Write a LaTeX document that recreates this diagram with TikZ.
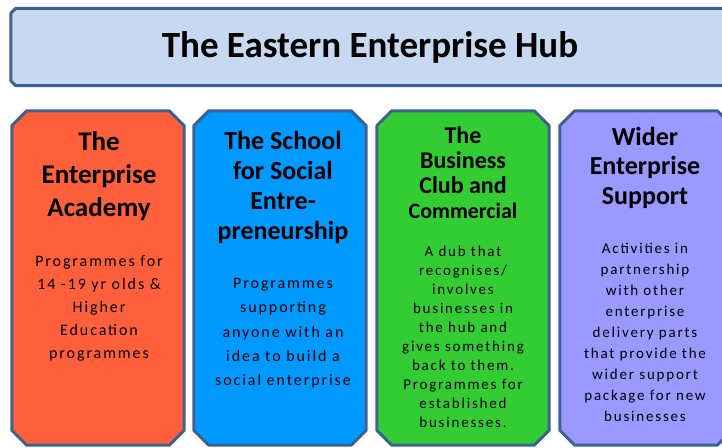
\documentclass[tikz,border=0pt]{standalone}
\usepackage{fontspec}
\setmainfont{Carlito}
\newfontfamily\bodyfont[LetterSpace=12]{Carlito}
\definecolor{bordc}{HTML}{3F6190}
\definecolor{hubc}{HTML}{C6D9F1}
\definecolor{orc}{HTML}{FF5F3A}
\definecolor{blc}{HTML}{0099FF}
\definecolor{grc}{HTML}{33CC33}
\definecolor{puc}{HTML}{9999FF}
\newcommand\chamfbox[3]{%
  \draw[draw=bordc, line width=3pt, line join=round, fill=#3]
    ([xshift=#2pt]#1.north west) -- ([xshift=-#2pt]#1.north east)
    -- ([yshift=-#2pt]#1.north east) -- ([yshift=#2pt]#1.south east)
    -- ([xshift=-#2pt]#1.south east) -- ([xshift=#2pt]#1.south west)
    -- ([yshift=#2pt]#1.south west) -- ([yshift=-#2pt]#1.north west) -- cycle;}
\tikzset{
  panel/.style={rectangle, minimum width=172pt, minimum height=334pt, inner sep=0pt},
  hubbox/.style={rectangle, minimum width=722pt, minimum height=77pt, inner sep=0pt},
  ptitle/.style={anchor=north, align=center, inner sep=0pt, font=\bfseries\fontsize{26}{#1}\selectfont},
  pbody/.style={anchor=north, align=center, inner sep=0pt, font=\bodyfont\fontsize{16}{#1}\selectfont},
}
\begin{document}
\begin{tikzpicture}[x=1pt,y=-1pt]
\useasboundingbox (0,0) rectangle (722,447);
\clip (0,0) rectangle (722,447);
\node[hubbox] (hub) at (372,47) {};
\chamfbox{hub}{5}{hubc}
\node[font=\bfseries\fontsize{37}{44}\selectfont, inner sep=0pt] (hubt) at (370,47) {The Eastern Enterprise Hub};

\node[panel] (p1) at (98,278) {};
\node[panel] (p2) at (280,278) {};
\node[panel] (p3) at (463,278) {};
\node[panel] (p4) at (646,278) {};
\chamfbox{p1}{15}{orc}
\chamfbox{p2}{15}{blc}
\chamfbox{p3}{15}{grc}
\chamfbox{p4}{15}{puc}

\node[ptitle=33, font=\bfseries\fontsize{27}{33}\selectfont] (t1) at (99,131) {The\\Enterprise\\Academy};
\node[pbody=23] (b1) at (99,255) {Programmes for\\14 -19 yr olds \&\\Higher\\Education\\programmes};

\node[ptitle=30] (t2) at (283,131) {The School\\for Social\\Entre-\\preneurship};
\node[pbody=24.3] (b2) at (283,278) {Programmes\\supporting\\anyone with an\\idea to build a\\social enterprise};

\node[ptitle=25, font=\bfseries\fontsize{24}{25}\selectfont] (t3) at (463,126) {The\\Business\\Club and\\{\fontsize{22}{25}\selectfont Commercial}};
\node[pbody=19, font=\bodyfont\fontsize{15}{19}\selectfont] (b3) at (463,246) {A dub that\\recognises/\\involves\\businesses in\\the hub and\\gives something\\back to them.\\Programmes for\\established\\businesses.};

\node[ptitle=29.5] (t4) at (645,127) {Wider\\Enterprise\\Support};
\node[pbody=21, font=\bodyfont\fontsize{15}{21}\selectfont] (b4) at (645,243) {Activities in\\partnership\\with other\\enterprise\\delivery parts\\that provide the\\wider support\\package for new\\businesses};
\end{tikzpicture}
\end{document}
